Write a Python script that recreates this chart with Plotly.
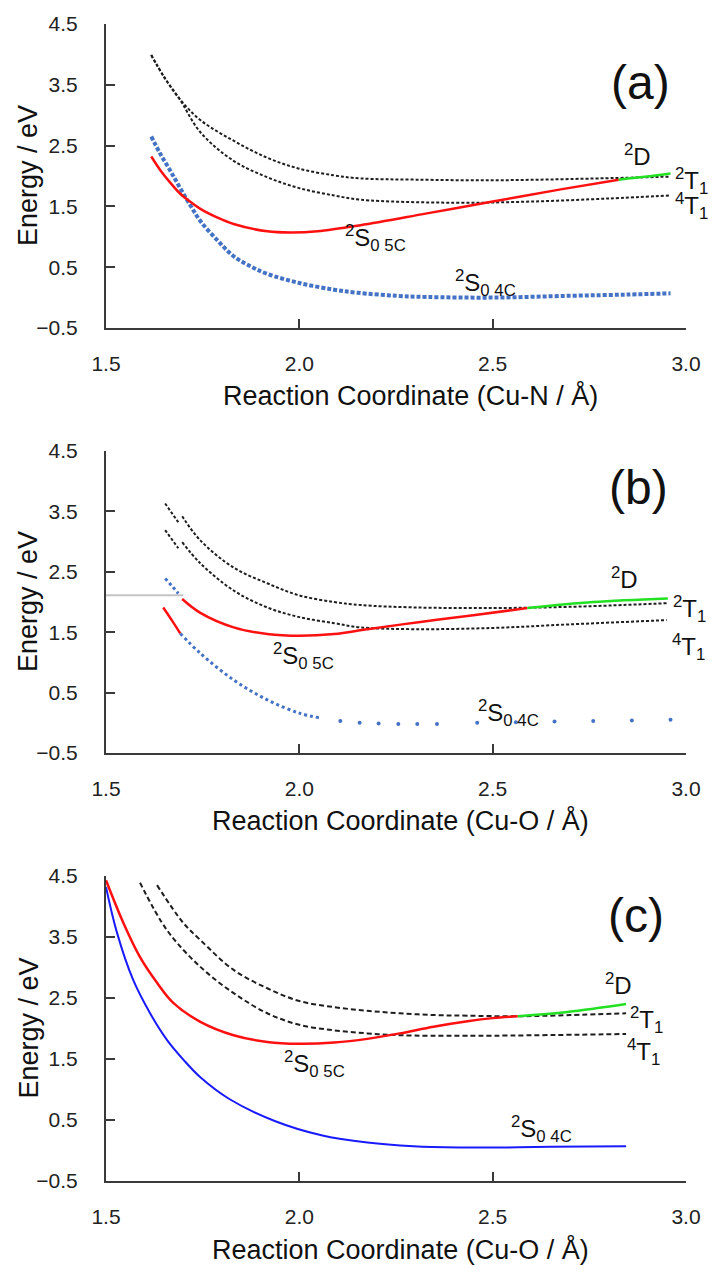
import plotly.graph_objects as go

# ---------------- data ----------------
# Panel (a): Cu-N
a_blue_x = [1.617, 1.64, 1.666, 1.69, 1.718, 1.744, 1.787, 1.83, 1.875, 1.917, 2.0, 2.09, 2.15, 2.25, 2.33, 2.5, 2.7, 2.85, 2.96]
a_blue_y = [2.65, 2.37, 2.09, 1.82, 1.52, 1.26, 0.95, 0.68, 0.51, 0.39, 0.24, 0.13, 0.08, 0.03, 0.01, 0.0, 0.03, 0.05, 0.07]
a_red_x = [1.617, 1.64, 1.665, 1.69, 1.717, 1.744, 1.787, 1.83, 1.917, 1.977, 2.047, 2.158, 2.33, 2.5, 2.676, 2.826]
a_red_y = [2.32, 2.10, 1.90, 1.72, 1.58, 1.46, 1.32, 1.21, 1.09, 1.07, 1.09, 1.19, 1.385, 1.58, 1.78, 1.94]
a_green_x = [2.826, 2.9, 2.96]
a_green_y = [1.94, 1.99, 2.04]
a_t2_x = [1.617, 1.65, 1.69, 1.744, 1.83, 1.917, 2.0, 2.09, 2.158, 2.3, 2.5, 2.7, 2.96]
a_t2_y = [3.99, 3.63, 3.27, 2.92, 2.58, 2.30, 2.12, 2.01, 1.96, 1.94, 1.93, 1.95, 1.99]
a_t4_x = [1.617, 1.65, 1.69, 1.744, 1.83, 1.917, 2.0, 2.09, 2.158, 2.4, 2.6, 2.8, 2.96]
a_t4_y = [3.99, 3.63, 3.27, 2.72, 2.25, 1.98, 1.80, 1.68, 1.61, 1.56, 1.58, 1.63, 1.68]

# Panel (b): Cu-O (two branches separated by None)
b_gray_x = [1.5, 1.70]
b_gray_y = [2.11, 2.11]
b_blue_x = [1.653, 1.670, 1.687, None, 1.692, 1.744, 1.83, 1.917, 2.0, 2.054]
b_blue_y = [2.39, 2.27, 2.14, None, 1.48, 1.15, 0.71, 0.38, 0.16, 0.08]
b_blue_pts_x = [2.106, 2.156, 2.205, 2.256, 2.305, 2.356, 2.46, 2.56, 2.66, 2.76, 2.86, 2.96]
b_blue_pts_y = [0.03, 0.0, -0.01, -0.02, -0.02, -0.02, 0.0, 0.01, 0.02, 0.03, 0.04, 0.05]
b_red_x = [1.648, 1.67, 1.692, None, 1.697, 1.744, 1.83, 1.917, 2.0, 2.09, 2.176, 2.313, 2.45, 2.59]
b_red_y = [1.91, 1.70, 1.48, None, 2.05, 1.82, 1.58, 1.47, 1.44, 1.47, 1.55, 1.67, 1.78, 1.90]
b_green_x = [2.59, 2.76, 2.953]
b_green_y = [1.90, 2.00, 2.06]
b_t2_x = [1.653, 1.687, None, 1.697, 1.744, 1.83, 1.917, 2.0, 2.09, 2.158, 2.3, 2.5, 2.7, 2.95]
b_t2_y = [3.63, 3.32, None, 3.42, 3.02, 2.57, 2.31, 2.11, 2.00, 1.95, 1.91, 1.90, 1.92, 1.98]
b_t4_x = [1.653, 1.687, None, 1.697, 1.744, 1.83, 1.917, 2.0, 2.09, 2.158, 2.3, 2.5, 2.7, 2.95]
b_t4_y = [3.19, 2.89, None, 2.99, 2.64, 2.19, 1.91, 1.75, 1.65, 1.58, 1.55, 1.57, 1.63, 1.70]

# Panel (c): Cu-O
c_blue_x = [1.5, 1.528, 1.57, 1.614, 1.658, 1.70, 1.744, 1.82, 1.938, 2.057, 2.176, 2.295, 2.414, 2.53, 2.65, 2.845]
c_blue_y = [4.32, 3.58, 2.80, 2.25, 1.81, 1.49, 1.20, 0.84, 0.48, 0.25, 0.13, 0.07, 0.05, 0.05, 0.06, 0.07]
c_red_x = [1.5, 1.545, 1.588, 1.632, 1.674, 1.744, 1.83, 1.917, 2.0, 2.09, 2.176, 2.26, 2.347, 2.435, 2.5, 2.565]
c_red_y = [4.43, 3.73, 3.17, 2.75, 2.42, 2.11, 1.89, 1.78, 1.75, 1.77, 1.83, 1.92, 2.03, 2.12, 2.17, 2.20]
c_green_x = [2.565, 2.694, 2.845]
c_green_y = [2.20, 2.27, 2.40]
c_t2_x = [1.632, 1.70, 1.744, 1.83, 1.917, 2.0, 2.09, 2.176, 2.26, 2.35, 2.435, 2.565, 2.7, 2.845]
c_t2_y = [4.35, 3.73, 3.45, 2.96, 2.66, 2.45, 2.35, 2.29, 2.25, 2.22, 2.21, 2.20, 2.22, 2.25]
c_t4_x = [1.588, 1.658, 1.744, 1.83, 1.917, 2.0, 2.09, 2.176, 2.26, 2.435, 2.845]
c_t4_y = [4.39, 3.61, 3.01, 2.58, 2.25, 2.06, 1.97, 1.92, 1.89, 1.88, 1.91]

x_ticks = [1.5, 2.0, 2.5, 3.0]
y_ticks = [-0.5, 0.5, 1.5, 2.5, 3.5, 4.5]
x_titles = ["Reaction Coordinate (Cu-N / Å)", "Reaction Coordinate (Cu-O / Å)", "Reaction Coordinate (Cu-O / Å)"]
panel_tags = ["(a)", "(b)", "(c)"]

# ---------------- figure ----------------
# body margin is removed (post_script), so figure pixels == page pixels
W, H = 721, 1278
L, R, T, B = 106, 35, 24, 97
PW, PH = W - L - R, H - T - B


def px(x):
    return (x - L) / PW


def py(y):
    return (H - B - y) / PH


RED = "#ff1010"
GREEN = "#22e022"
BLUE_A = "#4472c4"
BLUE_C = "#1a1aff"
DOT = "#1e1e1e"

fig = go.Figure()


def line(xs, ys, color, width, dash, ax):
    fig.add_trace(go.Scatter(x=xs, y=ys, mode="lines",
                             line=dict(color=color, width=width, dash=dash, shape="spline", smoothing=1.0),
                             xaxis="x" + ax, yaxis="y" + ax, hoverinfo="skip", connectgaps=False))


# (a)
line(a_t2_x, a_t2_y, DOT, 2, "3px,2px", "")
line(a_t4_x, a_t4_y, DOT, 2, "3px,2px", "")
line(a_blue_x, a_blue_y, BLUE_A, 4, "4px,2px", "")
line(a_red_x, a_red_y, RED, 2.5, "solid", "")
line(a_green_x, a_green_y, GREEN, 2.5, "solid", "")
# (b)
line(b_gray_x, b_gray_y, "#c4c4c4", 2, "solid", "2")
line(b_t2_x, b_t2_y, DOT, 2, "3px,2px", "2")
line(b_t4_x, b_t4_y, DOT, 2, "3px,2px", "2")
line(b_blue_x, b_blue_y, BLUE_A, 3, "3px,3px", "2")
fig.add_trace(go.Scatter(x=b_blue_pts_x, y=b_blue_pts_y, mode="markers",
                         marker=dict(color=BLUE_A, size=4, symbol="circle", line=dict(width=0)),
                         xaxis="x2", yaxis="y2", hoverinfo="skip"))
line(b_red_x, b_red_y, RED, 2.5, "solid", "2")
line(b_green_x, b_green_y, GREEN, 2.5, "solid", "2")
# (c)
line(c_t2_x, c_t2_y, DOT, 2, "5px,3px", "3")
line(c_t4_x, c_t4_y, DOT, 2, "5px,3px", "3")
line(c_blue_x, c_blue_y, BLUE_C, 2, "solid", "3")
line(c_red_x, c_red_y, RED, 2.5, "solid", "3")
line(c_green_x, c_green_y, GREEN, 2.5, "solid", "3")

# panel pixel geometry (top, bottom) in page pixels
panels = [(24, 328), (451, 753), (876, 1181)]

AX = "#3a3a3a"
TICKFONT = dict(family="Liberation Sans, Arial, sans-serif", size=21, color="#222222")
layout = dict(template="none", width=W, height=H, margin=dict(l=L, r=R, t=T, b=B, autoexpand=False),
              paper_bgcolor="white", plot_bgcolor="white", showlegend=False)
for i, (top, bot) in enumerate(panels):
    sfx = "" if i == 0 else str(i + 1)
    layout["xaxis" + sfx] = dict(domain=[0, 1], range=[1.5, 3.0], anchor="y" + sfx, automargin=False,
                                 tickvals=x_ticks, tickformat=".1f", showgrid=False, zeroline=False,
                                 showline=True, linecolor=AX, linewidth=2, ticks="inside",
                                 ticklen=9, tickwidth=2, tickcolor=AX, tickfont=TICKFONT,
                                 ticklabelstandoff=16)
    layout["yaxis" + sfx] = dict(domain=[py(bot), py(top)], range=[-0.5, 4.5], anchor="x" + sfx,
                                 automargin=False,
                                 tickvals=y_ticks, tickformat=".1f", showgrid=False, zeroline=False,
                                 showline=True, linecolor=AX, linewidth=2, ticks="inside",
                                 ticklen=9, tickwidth=2, tickcolor=AX, tickfont=TICKFONT,
                                 ticklabelstandoff=22)
fig.update_layout(**layout)

ann = []
TITLEFONT = dict(family="Liberation Sans, Arial, sans-serif", size=27, color="#111111")
LABFONT = dict(family="Liberation Sans, Arial, sans-serif", size=24, color="#111111")
TAGFONT = dict(family="Liberation Sans, Arial, sans-serif", size=48, color="#111111")


def add(text, x, y, font, xanchor="center", angle=0):
    ann.append(dict(text=text, x=px(x), y=py(y), xref="paper", yref="paper",
                    xanchor=xanchor, yanchor="middle", showarrow=False, font=font, textangle=angle))


title_x = [410, 400, 400]
for i, (top, bot) in enumerate(panels):
    add(x_titles[i], title_x[i], bot + 68, TITLEFONT)
    add("Energy / eV", 28, (top + bot) / 2, TITLEFONT, angle=-90)

# panel tags
add(panel_tags[0], 640, 83, TAGFONT)
add(panel_tags[1], 638, 487, TAGFONT)
add(panel_tags[2], 636, 915, TAGFONT)

S5 = "<sup>2</sup>S<sub>0 5C</sub>"
S4 = "<sup>2</sup>S<sub>0 4C</sub>"
D2 = "<sup>2</sup>D"
T2 = "<sup>2</sup>T<sub>1</sub>"
T4 = "<sup>4</sup>T<sub>1</sub>"
# (a)
add(D2, 637, 155, LABFONT)
add(T2, 673, 181, LABFONT, "left")
add(T4, 673, 206, LABFONT, "left")
add(S5, 375, 238, LABFONT)
add(S4, 485, 283, LABFONT)
# (b)
add(D2, 624, 578, LABFONT)
add(T2, 671, 609, LABFONT, "left")
add(T4, 670, 647, LABFONT, "left")
add(S5, 303, 656, LABFONT)
add(S4, 508, 713, LABFONT)
# (c)
add(D2, 618, 984, LABFONT)
add(T2, 628, 1020, LABFONT, "left")
add(T4, 625, 1052, LABFONT, "left")
add(S5, 314, 1064, LABFONT)
add(S4, 541, 1129, LABFONT)

fig.update_layout(annotations=ann)
fig.write_html("out.html", config={"displayModeBar": False},
               post_script="document.body.style.margin='0';")
